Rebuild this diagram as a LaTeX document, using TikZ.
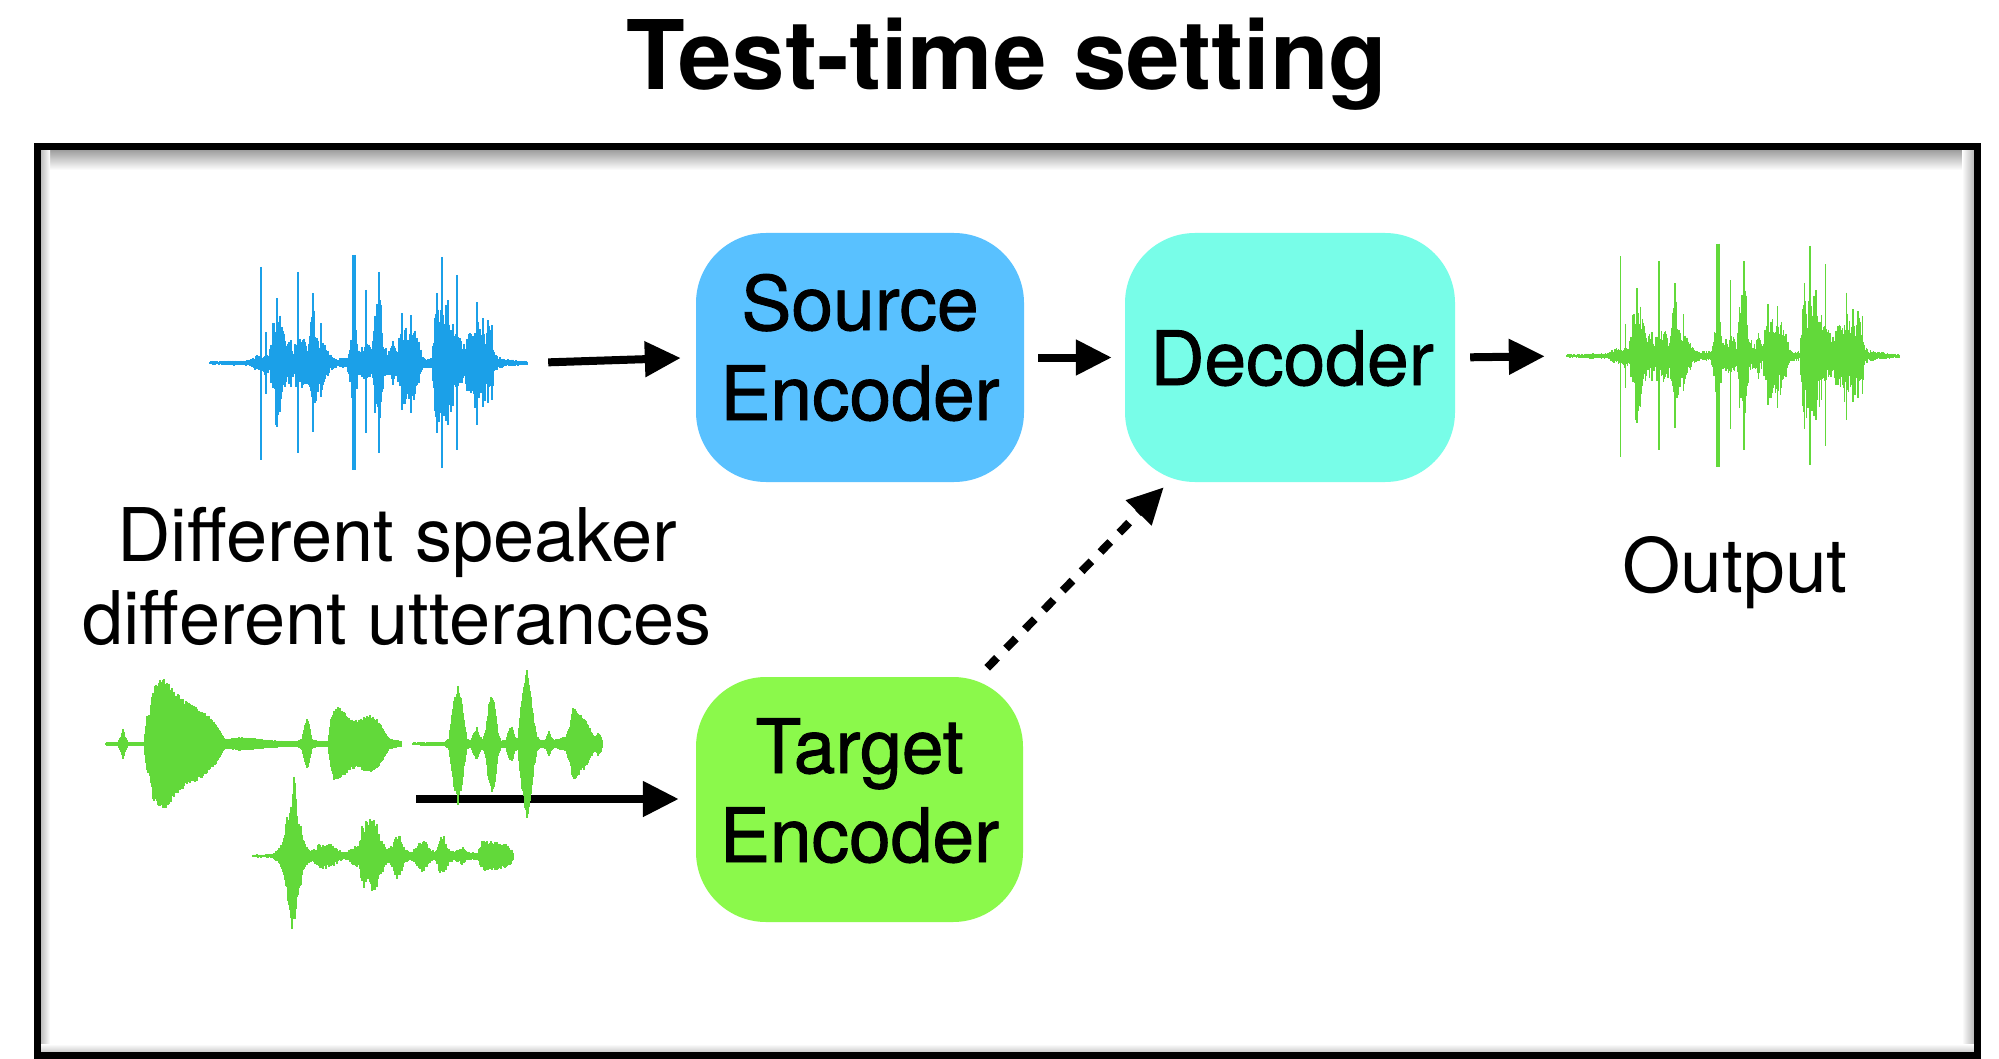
\documentclass[tikz,border=0pt]{standalone}
\usepackage{fontspec}
\setmainfont{TeX Gyre Heros}
\newfontfamily\blockfont[FakeBold=1.2]{TeX Gyre Heros}
\usetikzlibrary{arrows.meta,calc}

\definecolor{srcblue}{RGB}{89,193,255}
\definecolor{decaqua}{RGB}{120,253,232}
\definecolor{tgtgreen}{RGB}{139,249,75}
\definecolor{waveblue}{RGB}{27,160,232}
\definecolor{wavegreen}{RGB}{98,217,58}

% envelope-driven waveform: #1 roughness, #2 list of x/amplitude points
\def\wvnone{X}
\newcommand\wavefill[2]{%
  \foreach \px/\pa [remember=\px as \qx (initially X), remember=\pa as \qa (initially 0)] in {#2} {%
    \ifx\qx\wvnone\else
      \pgfmathtruncatemacro\xa{\qx}%
      \pgfmathtruncatemacro\xb{\px-1}%
      \foreach \xx in {\xa,...,\xb} {%
        \pgfmathsetmacro\tf{(\xx-\qx)/(\px-\qx)}%
        \pgfmathsetmacro\hu{(\qa+(\pa-\qa)*\tf)*(1-#1*rnd)}%
        \pgfmathsetmacro\hd{(\qa+(\pa-\qa)*\tf)*(1-#1*rnd)}%
        \draw[wvline] (\xx,-\hu) -- (\xx,\hd);
      }%
    \fi
  }%
}
% single needles: x/up/down/width
\newcommand\needles[1]{%
  \foreach \sx/\su/\sd/\sw in {#1} {\draw[line width=\sw pt] (\sx,-\su) -- (\sx,\sd);}%
}
% the speech signal used for the source and the output
\newcommand\speechwave{%
  \pgfmathsetseed{11}%
  \wavefill{0.55}{0/2, 40/3, 44/7, 48/8, 52/8, 55/12, 58/10, 60/14, 63/40, 66/62, 69/60, 72/40, 75/28, 78/22, 81/20, 84/12, 86/26, 89/30, 92/28, 95/24, 98/20, 100/50, 103/58, 106/50, 109/22, 112/28, 115/24, 118/14, 121/8, 125/5, 137/5, 140/20, 142/40, 146/40, 148/20, 150/14, 154/18, 158/20, 162/14, 165/50, 168/75, 171/60, 174/20, 178/12, 181/16, 184/18, 187/10, 190/40, 193/46, 198/45, 203/40, 208/28, 212/10, 215/5, 222/5, 225/55, 228/66, 232/50, 236/58, 240/52, 244/40, 247/30, 250/30, 253/15, 256/30, 259/38, 262/35, 265/45, 269/40, 272/30, 275/38, 279/38, 282/33, 285/10, 288/6, 300/4, 318/2}%
  \needles{51/96/97/1.6, 56/31/31/1.4, 67/65/64/1.6, 81/23/24/1.4, 88/91/90/1.6, 103/70/69/1.6, 111/40/34/1.4, 144/108/107/4.5, 156/73/70/1.6, 169/91/90/1.8, 183/22/22/1.4, 192/50/47/1.4, 201/48/50/1.4, 227/70/70/1.6, 232/106/105/2.2, 238/63/62/1.6, 247/88/87/1.6, 267/61/62/1.6, 273/45/44/1.4, 278/43/40/1.4, 282/38/37/1.4}%
}

\begin{document}
\begin{tikzpicture}[x=1pt, y=-1pt,
  block/.style={rounded corners=70pt, inner sep=0pt},
  blocktxt/.style={anchor=base, inner sep=0pt, font=\blockfont\fontsize{75}{90}\selectfont},
  lbltxt/.style={anchor=base, inner sep=0pt, font=\fontsize{74}{74}\selectfont},
  outtxt/.style={anchor=base, inner sep=0pt, font=\fontsize{75}{75}\selectfont},
  flow/.style={line width=8pt, -{Triangle[length=36pt,width=34pt]}},
  dashflow/.style={flow, dash pattern=on 14pt off 13pt},
  wvline/.style={line width=1.4pt}]

\useasboundingbox (0,0) rectangle (1999,1059);
\fill[white] (0,0) rectangle (1999,1059);

% title
\node[anchor=base, inner sep=0pt, font=\bfseries\fontsize{96}{96}\selectfont] (title) at (1007,90) {Test-time setting};

% frame with a soft inner shadow
\shade[top color=black!38, bottom color=white] (40,150) rectangle (1974,170);
\shade[left color=black!28, right color=white] (40,150) rectangle (50,1052);
\shade[left color=white, right color=black!28] (1962,150) rectangle (1974,1052);
\shade[top color=white, bottom color=black!20] (40,1044) rectangle (1974,1052);
\draw[line width=7pt] (37,147) rectangle (1977,1055);

% blocks
\node[block, fill=srcblue, minimum width=328pt, minimum height=249pt] (src) at (860,357.5) {};
\node[block, fill=decaqua, minimum width=330pt, minimum height=249pt] (dec) at (1290,357.5) {};
\node[block, fill=tgtgreen, minimum width=327pt, minimum height=245pt] (tgt) at (859.5,799.5) {};

\node[blocktxt] (srcA) at ($(src.center)+(0,-27.5)$) {Source};
\node[blocktxt] (srcB) at ($(src.center)+(0,62.5)$) {Encoder};
\node[blocktxt] (decA) at ($(dec.center)+(2,27.5)$) {Decoder};
\node[blocktxt] (tgtA) at ($(tgt.center)+(0,-26.5)$) {Target};
\node[blocktxt] (tgtB) at ($(tgt.center)+(0,62.5)$) {Encoder};

% labels
\node[lbltxt] (diffA) at (397,561) {Different speaker};
\node[lbltxt] (diffB) at (397,644) {different utterances};
\node[outtxt] (outlbl) at (1735,592) {Output};

% waveform extents
\node[inner sep=0pt, minimum width=318pt, minimum height=215pt] (srcwave) at (369,363) {};
\node[inner sep=0pt, minimum width=333pt, minimum height=225pt] (outwave) at (1733.5,356) {};
\coordinate (tgtin) at (416,799);

% connectors
\draw[flow, shorten <=20pt, shorten >=15pt] (srcwave.east) -- (src.west);
\draw[flow, shorten <=14pt, shorten >=13pt] (src.east) -- (dec.west);
\draw[flow, shorten <=15pt, shorten >=22pt] (dec.east) -- (outwave.west);
\draw[flow, shorten >=17pt] (tgtin) -- (tgt.west |- tgtin);
\coordinate (dashfrom) at ($(tgt.north east)+(-36,-9)$);
\coordinate (dashto) at ($(dec.south west)+(39,5)$);
\draw[dashflow] (dashfrom) -- (dashto);

% source speech
\begin{scope}[shift={(210,363)}, waveblue]
  \speechwave
\end{scope}

% converted output speech
\begin{scope}[shift={(1567,356)}, xscale=1.047, yscale=1.04, wavegreen]
  \speechwave
\end{scope}

% target speaker utterances
\begin{scope}[shift={(0,744)}, wavegreen, wvline/.style={line width=1.6pt}]
  \pgfmathsetseed{5}
  \wavefill{0.12}{106/1.5, 118/2, 121/8, 123/16, 125/8, 128/2, 144/2, 147/28, 150/33, 153/55, 157/64, 162/66, 168/64, 173/56, 178/50, 184/45, 190/41, 196/38, 203/33, 209/28, 215/22, 220/14, 224/6, 228/5, 240/7, 252/6, 262/5, 272/4, 285/3, 298/3, 302/6, 305/20, 307/26, 309/20, 312/5, 318/3, 328/3, 331/25, 334/36, 338/38, 343/34, 348/28, 353/25, 358/24, 363/27, 370/29, 376/26, 381/20, 385/12, 389/6, 395/4, 402/3}
  \wavefill{0.15}{413/1.5, 445/2, 449/6, 452/30, 455/50, 458/62, 461/50, 464/25, 467/5, 471/4, 474/12, 477/17, 480/8, 483/5, 486/15, 489/40, 492/51, 495/40, 498/12, 501/4, 506/4, 509/15, 512/18, 515/8, 518/6, 520/30, 524/60, 527/81, 530/60, 534/25, 537/8, 541/4, 546/5, 549/14, 551/8, 554/4, 560/6, 566/8, 570/20, 573/37, 578/33, 583/27, 588/20, 592/12, 595/7, 598/12, 601/8, 603/2}
\end{scope}
\begin{scope}[shift={(0,856)}, wavegreen, wvline/.style={line width=1.6pt}]
  \pgfmathsetseed{9}
  \wavefill{0.4}{253/1.5, 272/2, 276/5, 280/9, 284/22, 288/45, 291/70, 294/81, 297/62, 300/35, 304/16, 308/8, 312/6, 316/9, 320/13, 326/14, 332/12, 337/8, 341/5, 346/4, 351/8, 355/12, 359/10, 362/30, 367/36, 372/39, 377/32, 381/22, 385/10, 389/8, 392/12, 396/22, 398/26, 401/20, 405/7, 409/5, 413/6, 418/12, 423/19, 427/12, 431/6, 435/6, 437/9, 440/18, 443/24, 446/15, 450/6, 455/5, 460/8, 463/10, 467/6, 472/4, 478/4, 481/14, 484/16, 490/15, 500/14, 508/12, 512/8, 514/1}
\end{scope}
\end{tikzpicture}
\end{document}
